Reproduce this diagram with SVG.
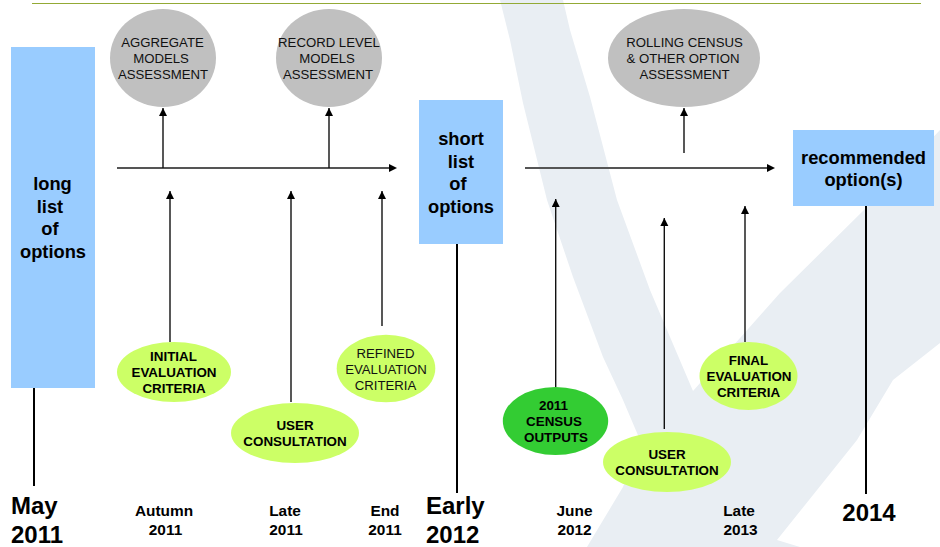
<svg xmlns="http://www.w3.org/2000/svg" width="940" height="547" viewBox="0 0 940 547">
<style>
text{font-family:"Liberation Sans",Arial,sans-serif;text-anchor:middle;fill:#000}
.n{font-size:13.2px;fill:#111}.nb{font-size:13.4px;font-weight:bold}
.h{font-size:18.3px;font-weight:bold}.d{font-size:15.400px;font-weight:bold}.y{font-size:24px;font-weight:bold}
.yl{text-anchor:start}
.box{fill:#99ccff}.gray{fill:#c0c0c0}.lime{fill:#ccff66}
.post{stroke:#000;stroke-width:2;fill:none}
.axis{stroke:#555;stroke-width:2;fill:none}
.up{stroke:#111;stroke-width:1.4;fill:none;marker-end:url(#ah)}
</style>
<defs><marker id="ah" markerUnits="userSpaceOnUse" markerWidth="9" markerHeight="9" refX="8" refY="4" orient="auto"><path d="M0 0L8 4L0 8Z" fill="#000"/></marker></defs>
<rect width="940" height="547" fill="#fff"/>
<path id="watermark" d="M500 0L563 0L570 30L590 97L617 200L650 290L693 391L780 293L867 207L940 130L940 343L893 380L857 440L777 540L800 547L587 547L623 487L640 440L623 400L603 357L573 277L547 200L523 103L510 40Z" fill="#e9eef3"/>
<line x1="32" y1="3.500" x2="921" y2="3.500" stroke="#93aa35" stroke-width="1.200"/>
<g id="connectors">
<line class="post" x1="34" y1="387" x2="34" y2="486"/>
<line class="post" x1="457" y1="243" x2="457" y2="493"/>
<line class="post" x1="866" y1="206" x2="866" y2="494"/>
<path class="axis" d="M117 168H390"/><path d="M389 164L397 168L389 172Z"/>
<path class="axis" d="M525 168H768"/><path d="M767 164L775 168L767 172Z"/>
<line class="up" x1="163" y1="168" x2="163" y2="108"/>
<line class="up" x1="329" y1="168" x2="329" y2="108"/>
<line class="up" x1="684" y1="153" x2="684" y2="108"/>
<line class="up" x1="170" y1="342" x2="170" y2="191"/>
<line class="up" x1="291" y1="402" x2="291" y2="191"/>
<line class="up" x1="382" y1="326" x2="382" y2="191"/>
<line class="up" x1="555.700" y1="387" x2="555.700" y2="199"/>
<line class="up" x1="664.300" y1="429" x2="664.300" y2="218"/>
<line class="up" x1="745" y1="342" x2="745" y2="206"/>
</g>
<g id="long-list"><rect class="box" x="11" y="47" width="84" height="341"/>
<text class="h" x="52.500" y="190">long</text><text class="h" x="50" y="213">list</text><text class="h" x="50" y="235">of</text><text class="h" x="53" y="258">options</text></g>
<g id="short-list"><rect class="box" x="419" y="100" width="84" height="144"/>
<text class="h" x="461" y="145">short</text><text class="h" x="461" y="168">list</text><text class="h" x="458" y="190">of</text><text class="h" x="461" y="213">options</text></g>
<g id="recommended"><rect class="box" x="793" y="130" width="141" height="76"/>
<text class="h" x="863.500" y="164">recommended</text><text class="h" x="863.500" y="186">option(s)</text></g>
<g id="aggregate"><ellipse class="gray" cx="163" cy="58" rx="53" ry="49"/>
<text class="n" x="162.500" y="47">AGGREGATE</text><text class="n" x="161" y="63">MODELS</text><text class="n" x="163" y="79">ASSESSMENT</text></g>
<g id="record-level"><ellipse class="gray" cx="329" cy="58" rx="53" ry="49"/>
<text class="n" x="329" y="47">RECORD LEVEL</text><text class="n" x="327" y="63">MODELS</text><text class="n" x="328" y="79">ASSESSMENT</text></g>
<g id="rolling"><ellipse class="gray" cx="684" cy="58" rx="76" ry="49"/>
<text class="n" x="684.500" y="47">ROLLING CENSUS</text><text class="n" x="683" y="63">&amp; OTHER OPTION</text><text class="n" x="684.500" y="79">ASSESSMENT</text></g>
<g id="initial"><ellipse class="lime" cx="174" cy="372" rx="57" ry="30"/>
<text class="nb" x="173.500" y="361">INITIAL</text><text class="nb" x="174" y="377">EVALUATION</text><text class="nb" x="174" y="393">CRITERIA</text></g>
<g id="user-1"><ellipse class="lime" cx="295" cy="433" rx="64" ry="30"/>
<text class="nb" x="295" y="430">USER</text><text class="nb" x="295" y="446">CONSULTATION</text></g>
<g id="refined"><ellipse class="lime" cx="386" cy="368.500" rx="49.300" ry="33.700"/>
<text class="n" x="385.500" y="358">REFINED</text><text class="n" x="386" y="374">EVALUATION</text><text class="n" x="385.500" y="390">CRITERIA</text></g>
<g id="census"><ellipse cx="555.500" cy="421" rx="52.700" ry="34" fill="#33cc33"/>
<text class="nb" x="553.500" y="410">2011</text><text class="nb" x="554" y="426">CENSUS</text><text class="nb" x="556" y="442">OUTPUTS</text></g>
<g id="user-2"><ellipse class="lime" cx="667" cy="462" rx="64" ry="30"/>
<text class="nb" x="667" y="459">USER</text><text class="nb" x="667" y="475">CONSULTATION</text></g>
<g id="final"><ellipse class="lime" cx="748.500" cy="376" rx="49" ry="34"/>
<text class="nb" x="748.500" y="365">FINAL</text><text class="nb" x="749" y="381">EVALUATION</text><text class="nb" x="748.500" y="397">CRITERIA</text></g>
<g id="dates">
<text class="y yl" x="11" y="514">May</text><text class="y yl" x="11" y="543">2011</text>
<text class="d" x="164" y="516">Autumn</text><text class="d" x="165.500" y="535">2011</text>
<text class="d" x="285" y="516">Late</text><text class="d" x="286" y="535">2011</text>
<text class="d" x="385" y="516">End</text><text class="d" x="385" y="535">2011</text>
<text class="y yl" x="426" y="514">Early</text><text class="y yl" x="426" y="543">2012</text>
<text class="d" x="574.500" y="516">June</text><text class="d" x="574.500" y="535">2012</text>
<text class="d" x="739" y="516">Late</text><text class="d" x="740.500" y="535">2013</text>
<text class="y" x="869" y="521">2014</text>
</g>
</svg>
